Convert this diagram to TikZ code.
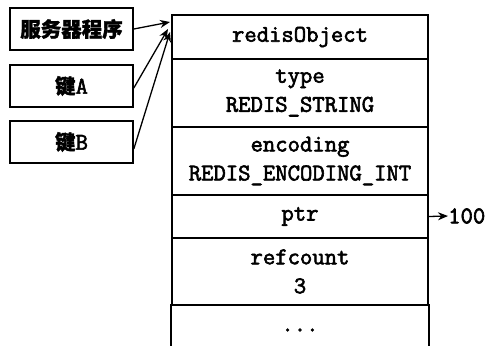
\documentclass[tikz,border=0pt]{standalone}
\usepackage{fontspec}
\newfontfamily\cmono{Latin Modern Mono}[FakeBold=2.5]
\newfontfamily\cjk{Noto Sans CJK SC}[BoldFeatures={FakeBold=1.5}]
\usetikzlibrary{arrows.meta}
\tikzset{
  cell/.style={draw, line width=1.6pt, minimum width=256pt, inner sep=0pt, align=center,
    font=\cmono\fontsize{24}{29}\selectfont},
  keybox/.style={draw, line width=1.6pt, minimum width=123pt, minimum height=42pt, inner sep=0pt,
    font=\cjk\bfseries\fontsize{20.5}{24}\selectfont},
  link/.style={line width=1.3pt, -{Stealth[length=10pt,width=8pt]}},
}
\begin{document}
\begin{tikzpicture}[x=1pt,y=-1pt]
\useasboundingbox (0,0) rectangle (491,346);
\node[cell, minimum height=44pt] (obj) at (300,37) {redisObject};
\node[cell, minimum height=68pt] (type) at (300,93) {type\\REDIS\_STRING};
\node[cell, minimum height=68pt] (enc) at (300,161) {encoding\\REDIS\_ENCODING\_INT};
\node[cell, minimum height=43pt] (ptr) at (300,216.5) {ptr};
\node[cell, minimum height=67pt] (ref) at (300,271.5) {refcount\\3};
\node[cell, draw=none, minimum height=50pt] (dots) at (300,330) {...};
\draw[line width=1.6pt] (dots.north west) -- ++(0,45);
\draw[line width=1.6pt] (dots.north east) -- ++(0,45);
\node[keybox] (srv) at (71.5,29) {服务器程序};
\node[keybox] (ka) at (71.5,86) {键{\cmono\fontsize{24}{24}\selectfont A}};
\node[keybox] (kb) at (71.5,142) {键{\cmono\fontsize{24}{24}\selectfont B}};
\coordinate (t1) at (170,22);
\coordinate (t2) at (168,29);
\coordinate (t3) at (170,32);
\draw[link] (srv.east) -- (t1);
\draw[link] ([yshift=-2pt]ka.east) -- (t2);
\draw[link] ([yshift=-7pt]kb.east) -- (t3);
\node[font=\cmono\fontsize{24}{24}\selectfont, anchor=west, inner sep=0pt] (v) at (448,216) {100};
\draw[link] (ptr.east) -- (v.west);
\end{tikzpicture}
\end{document}
